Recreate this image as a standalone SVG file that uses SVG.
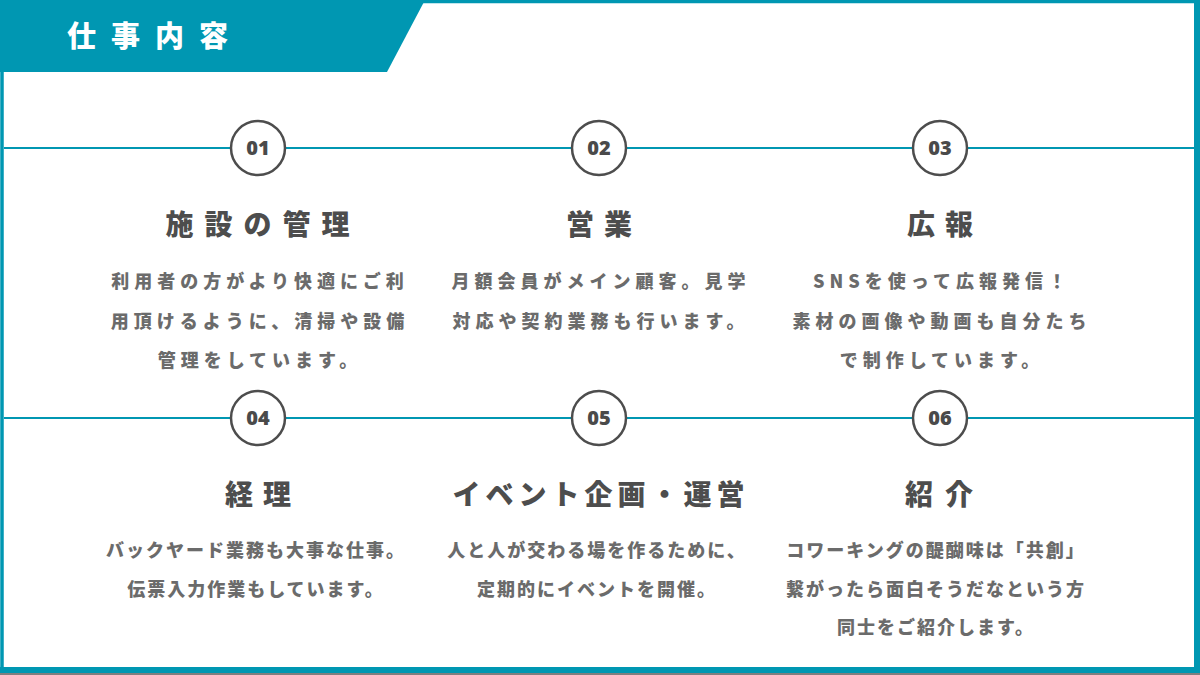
<svg xmlns="http://www.w3.org/2000/svg" width="1200" height="675" viewBox="0 0 1200 675">
<style>
.jp{font-family:"Noto Sans CJK JP","Noto Sans",sans-serif;font-weight:900;}
.num{font-family:"Noto Sans","Noto Sans CJK JP",sans-serif;font-weight:900;font-size:20px;fill:#4a4a4a;text-anchor:middle;}
.ttl{font-size:28px;fill:#4d4d4d;text-anchor:middle;}
.body{font-size:18px;fill:#6b6b6b;text-anchor:middle;}
.ring{fill:#fff;stroke:#4d4d4d;stroke-width:2.5;}
.line{stroke:#0097b2;stroke-width:2;fill:none;}
</style>
<rect x="0" y="0" width="1200" height="675" fill="#ffffff"/>
<g id="frame">
<rect x="0" y="673" width="1200" height="2" fill="#7f7f7f"/>
<rect x="2" y="1.5" width="1195" height="668.5" fill="none" stroke="#0097b2" stroke-width="3.5"/>
<rect x="1194" y="0" width="6" height="673" fill="#0097b2"/>
<rect x="0" y="667" width="1200" height="6" fill="#0097b2"/>
</g>
<g id="header">
<polygon points="0,0 425,0 387,72 0,72" fill="#0097b2"/>
<text class="jp" x="155" y="47" font-size="29" fill="#ffffff" text-anchor="middle" letter-spacing="15">仕事内容</text>
</g>
<g id="connectors">
<line class="line" x1="4" y1="148" x2="1194" y2="148"/>
<line class="line" x1="4" y1="418" x2="1194" y2="418"/>
</g>
<g id="node01">
<circle class="ring" cx="258" cy="148" r="27"/>
<text class="num" x="258" y="155">01</text>
<text class="jp ttl" x="263" y="235" letter-spacing="11">施設の管理</text>
<text class="jp body" x="260" y="288" letter-spacing="5">利用者の方がより快適にご利</text>
<text class="jp body" x="260" y="328" letter-spacing="5">用頂けるように、清掃や設備</text>
<text class="jp body" x="260" y="367" letter-spacing="5">管理をしています。</text>
</g>
<g id="node02">
<circle class="ring" cx="599" cy="148" r="27"/>
<text class="num" x="599" y="155">02</text>
<text class="jp ttl" x="604" y="235" letter-spacing="10">営業</text>
<text class="jp body" x="601" y="288" letter-spacing="5">月額会員がメイン顧客。見学</text>
<text class="jp body" x="601" y="328" letter-spacing="5">対応や契約業務も行います。</text>
</g>
<g id="node03">
<circle class="ring" cx="940" cy="148" r="27"/>
<text class="num" x="940" y="155">03</text>
<text class="jp ttl" x="945" y="235" letter-spacing="10">広報</text>
<text class="jp body" x="942" y="288" letter-spacing="5">SNSを使って広報発信！</text>
<text class="jp body" x="942" y="328" letter-spacing="5">素材の画像や動画も自分たち</text>
<text class="jp body" x="942" y="367" letter-spacing="5">で制作しています。</text>
</g>
<g id="node04">
<circle class="ring" cx="258" cy="418" r="27"/>
<text class="num" x="258" y="425">04</text>
<text class="jp ttl" x="263" y="505" letter-spacing="10">経理</text>
<text class="jp body" x="256" y="557" letter-spacing="2">バックヤード業務も大事な仕事。</text>
<text class="jp body" x="256" y="596" letter-spacing="2">伝票入力作業もしています。</text>
</g>
<g id="node05">
<circle class="ring" cx="599" cy="418" r="27"/>
<text class="num" x="599" y="425">05</text>
<text class="jp ttl" x="601" y="505" letter-spacing="5">イベント企画・運営</text>
<text class="jp body" x="597" y="557" letter-spacing="2">人と人が交わる場を作るために、</text>
<text class="jp body" x="597" y="596" letter-spacing="2">定期的にイベントを開催。</text>
</g>
<g id="node06">
<circle class="ring" cx="940" cy="418" r="27"/>
<text class="num" x="940" y="425">06</text>
<text class="jp ttl" x="945" y="505" letter-spacing="12">紹介</text>
<text class="jp body" x="936" y="557" letter-spacing="2">コワーキングの醍醐味は「共創」</text>
<text class="jp body" x="936" y="596" letter-spacing="2">繋がったら面白そうだなという方</text>
<text class="jp body" x="936" y="634" letter-spacing="2">同士をご紹介します。</text>
</g>
</svg>
